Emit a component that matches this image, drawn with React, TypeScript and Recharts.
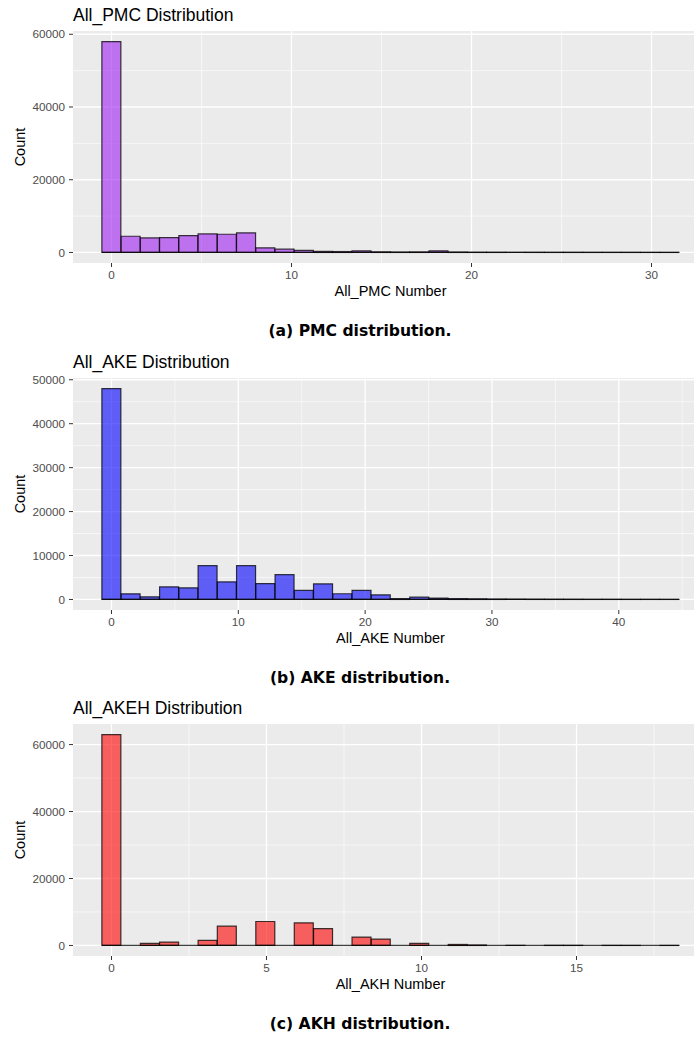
import React from "react";
import { BarChart, Bar, XAxis, YAxis, CartesianGrid, ReferenceLine } from "recharts";

// Histogram counts, 30 bins each (ggplot default), bin i centred at i * binWidth
const PMC_COUNTS = [
  58000, 4450, 4000, 4100, 4650, 5100, 5000, 5400, 1280, 900,
  550, 300, 250, 450, 180, 120, 150, 450, 120, 60,
  50, 40, 40, 30, 30, 20, 20, 20, 10, 10,
];
const AKE_COUNTS = [
  48000, 1280, 600, 2870, 2650, 7700, 4000, 7700, 3620, 5650,
  2050, 3550, 1300, 2050, 1050, 200, 520, 280, 200, 150,
  100, 80, 60, 50, 40, 30, 30, 20, 20, 10,
];
const AKH_COUNTS = [
  63000, 0, 600, 1000, 0, 1500, 5750, 0, 7150, 0,
  6750, 5050, 0, 2500, 1900, 0, 600, 0, 300, 150,
  0, 60, 0, 40, 30, 0, 20, 10, 0, 10,
];

const PMC_MAX = 31;
const AKE_MAX = 44;
const AKH_MAX = 18;

const PMC_X_TICKS = [0, 10, 20, 30];
const PMC_X_MINOR = [5, 15, 25];
const PMC_Y_TICKS = [0, 20000, 40000, 60000];
const PMC_Y_MINOR = [10000, 30000, 50000];

const AKE_X_TICKS = [0, 10, 20, 30, 40];
const AKE_X_MINOR = [5, 15, 25, 35, 45];
const AKE_Y_TICKS = [0, 10000, 20000, 30000, 40000, 50000];
const AKE_Y_MINOR = [5000, 15000, 25000, 35000, 45000];

const AKH_X_TICKS = [0, 5, 10, 15];
const AKH_X_MINOR = [2.5, 7.5, 12.5, 17.5];
const AKH_Y_TICKS = [0, 20000, 40000, 60000];
const AKH_Y_MINOR = [10000, 30000, 50000];

const SANS = "'Liberation Sans', Arial, Helvetica, sans-serif";
const PANEL_TOP = 31;
const PANEL_H = 232;
const X_AXIS_H = 30;
const Y_AXIS_W = 73;
const CHART_W = 720;
const PANEL_RIGHT = 708;

type PanelProps = {
  top: number;
  title: string;
  xLabel: string;
  caption: string;
  counts: number[];
  max: number;
  color: string;
  xTicks: number[];
  xMinor: number[];
  yTicks: number[];
  yMinor: number[];
};

// ggplot-style expansion: 5% of the range on each side
function expand(lo: number, hi: number): [number, number] {
  const pad = (hi - lo) * 0.05;
  return [lo - pad, hi + pad];
}

function Histogram(p: PanelProps) {
  const binWidth = p.max / (p.counts.length - 1);
  const rows = p.counts.map((count, i) => ({ x: i * binWidth, count }));
  const xLo = -binWidth / 2;
  const xHi = p.max + binWidth / 2;
  const xDomain = expand(xLo, xHi);
  const yDomain = expand(0, Math.max(...p.counts));
  const axisTick = { fill: "#4d4d4d", fontSize: 11.7, fontFamily: SANS };
  const plotCenterX = (Y_AXIS_W + PANEL_RIGHT) / 2;

  return (
    <div
      style={{
        position: "absolute",
        left: 0,
        top: p.top,
        width: 694,
        height: 347,
        overflow: "hidden",
      }}
    >
      <BarChart
        width={CHART_W}
        height={PANEL_TOP + PANEL_H + X_AXIS_H}
        data={rows}
        margin={{ top: PANEL_TOP, right: CHART_W - PANEL_RIGHT, bottom: 0, left: 0 }}
        barCategoryGap={0}
        barGap={0}
      >
        <CartesianGrid
          fill="#ebebeb"
          stroke="#ffffff"
          strokeWidth={0.6}
          horizontalValues={p.yMinor}
          verticalValues={p.xMinor}
        />
        <CartesianGrid
          stroke="#ffffff"
          strokeWidth={1.3}
          horizontalValues={p.yTicks}
          verticalValues={p.xTicks}
        />
        <XAxis
          dataKey="x"
          type="number"
          domain={xDomain}
          allowDataOverflow
          ticks={p.xTicks}
          height={X_AXIS_H}
          axisLine={false}
          tickLine={{ stroke: "#333333" }}
          tickSize={4}
          tickMargin={3.5}
          tick={axisTick}
        />
        <YAxis
          type="number"
          domain={yDomain}
          allowDataOverflow
          ticks={p.yTicks}
          width={Y_AXIS_W}
          axisLine={false}
          tickLine={{ stroke: "#333333" }}
          tickSize={4}
          tickMargin={4}
          tick={axisTick}
        />
        <Bar
          dataKey="count"
          fill={p.color}
          fillOpacity={0.6}
          stroke="#000000"
          strokeOpacity={0.75}
          strokeWidth={1.2}
          isAnimationActive={false}
        />
        {/* empty bins still get an outline along zero */}
        <ReferenceLine
          segment={[
            { x: xLo, y: 0 },
            { x: xHi, y: 0 },
          ]}
          stroke="#000000"
          strokeOpacity={0.75}
          strokeWidth={1.2}
        />
      </BarChart>
      <svg
        width={694}
        height={347}
        style={{ position: "absolute", left: 0, top: 0, pointerEvents: "none" }}
      >
        <text x={Y_AXIS_W} y={21} fontFamily={SANS} fontSize={17.5} fill="#000">
          {p.title}
        </text>
        <text
          x={25}
          y={PANEL_TOP + PANEL_H / 2}
          transform={`rotate(-90, 25, ${PANEL_TOP + PANEL_H / 2})`}
          textAnchor="middle"
          fontFamily={SANS}
          fontSize={14.5}
          fill="#000"
        >
          Count
        </text>
        <text
          x={plotCenterX}
          y={PANEL_TOP + PANEL_H + 33}
          textAnchor="middle"
          fontFamily={SANS}
          fontSize={14.5}
          fill="#000"
        >
          {p.xLabel}
        </text>
        <text
          x={360}
          y={336}
          textAnchor="middle"
          fontFamily="'DejaVu Sans', sans-serif"
          fontWeight="bold"
          fontSize={15.6}
          fill="#000"
        >
          {p.caption}
        </text>
      </svg>
    </div>
  );
}

export default function App() {
  return (
    <div
      style={{
        position: "absolute",
        left: 0,
        top: 0,
        width: 694,
        height: 1038,
        overflow: "hidden",
        background: "#ffffff",
      }}
    >
      <Histogram
        top={0}
        title="All_PMC Distribution"
        xLabel="All_PMC Number"
        caption="(a) PMC distribution."
        counts={PMC_COUNTS}
        max={PMC_MAX}
        color="#a020f0"
        xTicks={PMC_X_TICKS}
        xMinor={PMC_X_MINOR}
        yTicks={PMC_Y_TICKS}
        yMinor={PMC_Y_MINOR}
      />
      <Histogram
        top={347}
        title="All_AKE Distribution"
        xLabel="All_AKE Number"
        caption="(b) AKE distribution."
        counts={AKE_COUNTS}
        max={AKE_MAX}
        color="#0000ff"
        xTicks={AKE_X_TICKS}
        xMinor={AKE_X_MINOR}
        yTicks={AKE_Y_TICKS}
        yMinor={AKE_Y_MINOR}
      />
      <Histogram
        top={693}
        title="All_AKEH Distribution"
        xLabel="All_AKH Number"
        caption="(c) AKH distribution."
        counts={AKH_COUNTS}
        max={AKH_MAX}
        color="#ff0000"
        xTicks={AKH_X_TICKS}
        xMinor={AKH_X_MINOR}
        yTicks={AKH_Y_TICKS}
        yMinor={AKH_Y_MINOR}
      />
    </div>
  );
}
